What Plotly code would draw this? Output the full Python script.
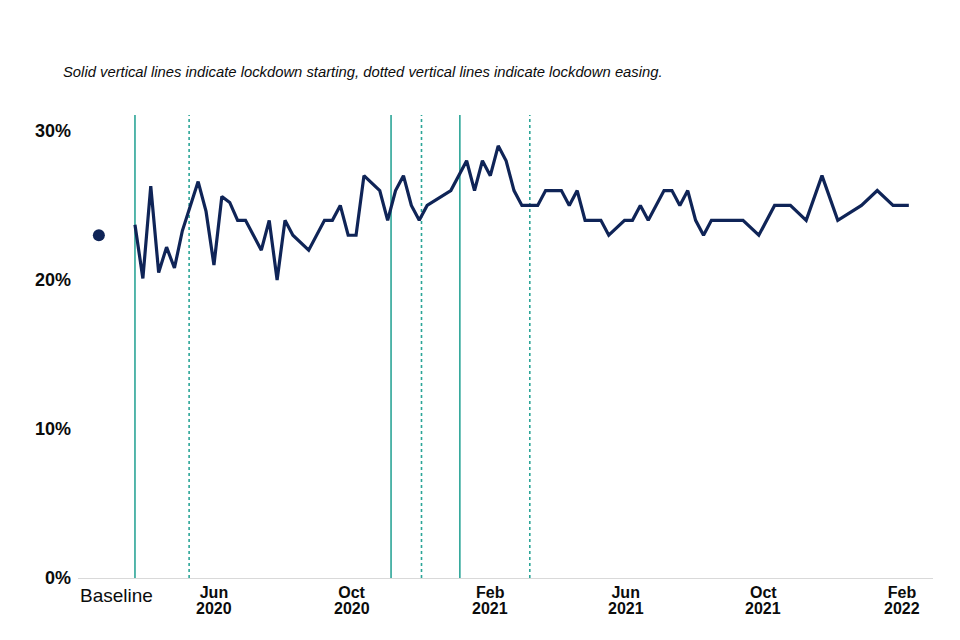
import plotly.graph_objects as go

# ---- data ----
dates = [
    "2020-03-23", "2020-03-30", "2020-04-06", "2020-04-13", "2020-04-20", "2020-04-27",
    "2020-05-04", "2020-05-18", "2020-05-25", "2020-06-01", "2020-06-08", "2020-06-15",
    "2020-06-22", "2020-06-29", "2020-07-06", "2020-07-13", "2020-07-20", "2020-07-27",
    "2020-08-03", "2020-08-10", "2020-08-24", "2020-09-07", "2020-09-14", "2020-09-21",
    "2020-09-28", "2020-10-05", "2020-10-12", "2020-10-26", "2020-11-02", "2020-11-09",
    "2020-11-16", "2020-11-23", "2020-11-30", "2020-12-07", "2020-12-28", "2021-01-11",
    "2021-01-18", "2021-01-25", "2021-02-01", "2021-02-08", "2021-02-15", "2021-02-22",
    "2021-03-01", "2021-03-08", "2021-03-15", "2021-03-22", "2021-03-29", "2021-04-05",
    "2021-04-12", "2021-04-19", "2021-04-26", "2021-05-03", "2021-05-10", "2021-05-17",
    "2021-05-31", "2021-06-07", "2021-06-14", "2021-06-21", "2021-07-05", "2021-07-12",
    "2021-07-19", "2021-07-26", "2021-08-02", "2021-08-09", "2021-08-16", "2021-08-30",
    "2021-09-13", "2021-09-27", "2021-10-11", "2021-10-25", "2021-11-08", "2021-11-22",
    "2021-12-06", "2021-12-27", "2022-01-10", "2022-01-24", "2022-02-07",
]
values = [
    23.7, 20.1, 26.3, 20.5, 22.2, 20.8,
    23.3, 26.6, 24.6, 21.0, 25.6, 25.2,
    24, 24, 23, 22, 24, 20,
    24, 23, 22, 24, 24, 25,
    23, 23, 27, 26, 24, 26,
    27, 25, 24, 25, 26, 28,
    26, 28, 27, 29, 28, 26,
    25, 25, 25, 26, 26, 26,
    25, 26, 24, 24, 24, 23,
    24, 24, 25, 24, 26, 26,
    25, 26, 24, 23, 24, 24,
    24, 23, 25, 25, 24, 27,
    24, 25, 26, 25, 25,
]

baseline_date = "2020-02-20"
baseline_value = 23.0

lockdown_start = ["2020-03-23", "2020-11-05", "2021-01-05"]
lockdown_easing = ["2020-05-10", "2020-12-02", "2021-03-08"]

tick_dates = ["2020-06-01", "2020-10-01", "2021-02-01", "2021-06-01", "2021-10-01", "2022-02-01"]
tick_months = ["Jun", "Oct", "Feb", "Jun", "Oct", "Feb"]
tick_years = ["2020", "2020", "2021", "2021", "2021", "2022"]

y_ticks = [0, 10, 20, 30]

title_text = "Solid vertical lines indicate lockdown starting, dotted vertical lines indicate lockdown easing."

# ---- styles ----
NAVY = "#0f2457"
TEAL = "#2ba597"
FONT = "Liberation Sans, Arial, sans-serif"
TXT = "#0b0c0c"

fig = go.Figure()

fig.add_trace(go.Scatter(
    x=dates, y=values, mode="lines",
    line=dict(color=NAVY, width=3.2),
    hoverinfo="x+y", showlegend=False,
))
fig.add_trace(go.Scatter(
    x=[baseline_date], y=[baseline_value], mode="markers",
    marker=dict(color=NAVY, size=12),
    showlegend=False,
))

shapes = []
for d in lockdown_start:
    shapes.append(dict(type="line", xref="x", yref="paper", x0=d, x1=d, y0=0, y1=1,
                       line=dict(color=TEAL, width=1.6), layer="below"))
for d in lockdown_easing:
    shapes.append(dict(type="line", xref="x", yref="paper", x0=d, x1=d, y0=0, y1=1,
                       line=dict(color=TEAL, width=1.6, dash="dot"), layer="below"))

annotations = [
    dict(text="<i>" + title_text + "</i>", xref="paper", yref="paper",
         x=-0.0198, y=1.093, xanchor="left", yanchor="middle",
         showarrow=False, font=dict(size=14.8, color=TXT, family=FONT)),
    dict(text="Baseline", xref="paper", yref="paper",
         x=0, y=-0.037, xanchor="left", yanchor="middle",
         showarrow=False, font=dict(size=19, color=TXT, family=FONT)),
]
# year line of each date tick label (month line is the axis tick text)
for d, yr in zip(tick_dates, tick_years):
    annotations.append(dict(text="<b>" + yr + "</b>", xref="x", yref="paper",
                            x=d, y=-0.065, xanchor="center", yanchor="middle",
                            showarrow=False, font=dict(size=16, color=TXT, family=FONT)))

fig.update_layout(
    width=960, height=640,
    margin=dict(l=70, r=35, t=107, b=70),
    paper_bgcolor="white", plot_bgcolor="white",
    font=dict(family=FONT, color=TXT),
    shapes=shapes,
    annotations=annotations,
    xaxis=dict(
        type="date",
        range=["2020-02-01 12:00", "2022-02-28 10:00"],
        tickvals=tick_dates,
        ticktext=["<b>" + m + "</b>" for m in tick_months],
        tickfont=dict(size=16, family=FONT, color=TXT),
        showgrid=False, zeroline=False,
        showline=True, linecolor="#d9d9d9", linewidth=1.2,
        ticks="", tickangle=0,
    ),
    yaxis=dict(
        range=[0, 31.07],
        tickvals=y_ticks,
        ticktext=["<b>%d%%</b>" % v for v in y_ticks],
        tickfont=dict(size=18, family=FONT, color=TXT),
        showgrid=False, zeroline=False, showline=False,
        ticks="", ticklabelstandoff=6,
    ),
)

fig.write_html("out.html")
